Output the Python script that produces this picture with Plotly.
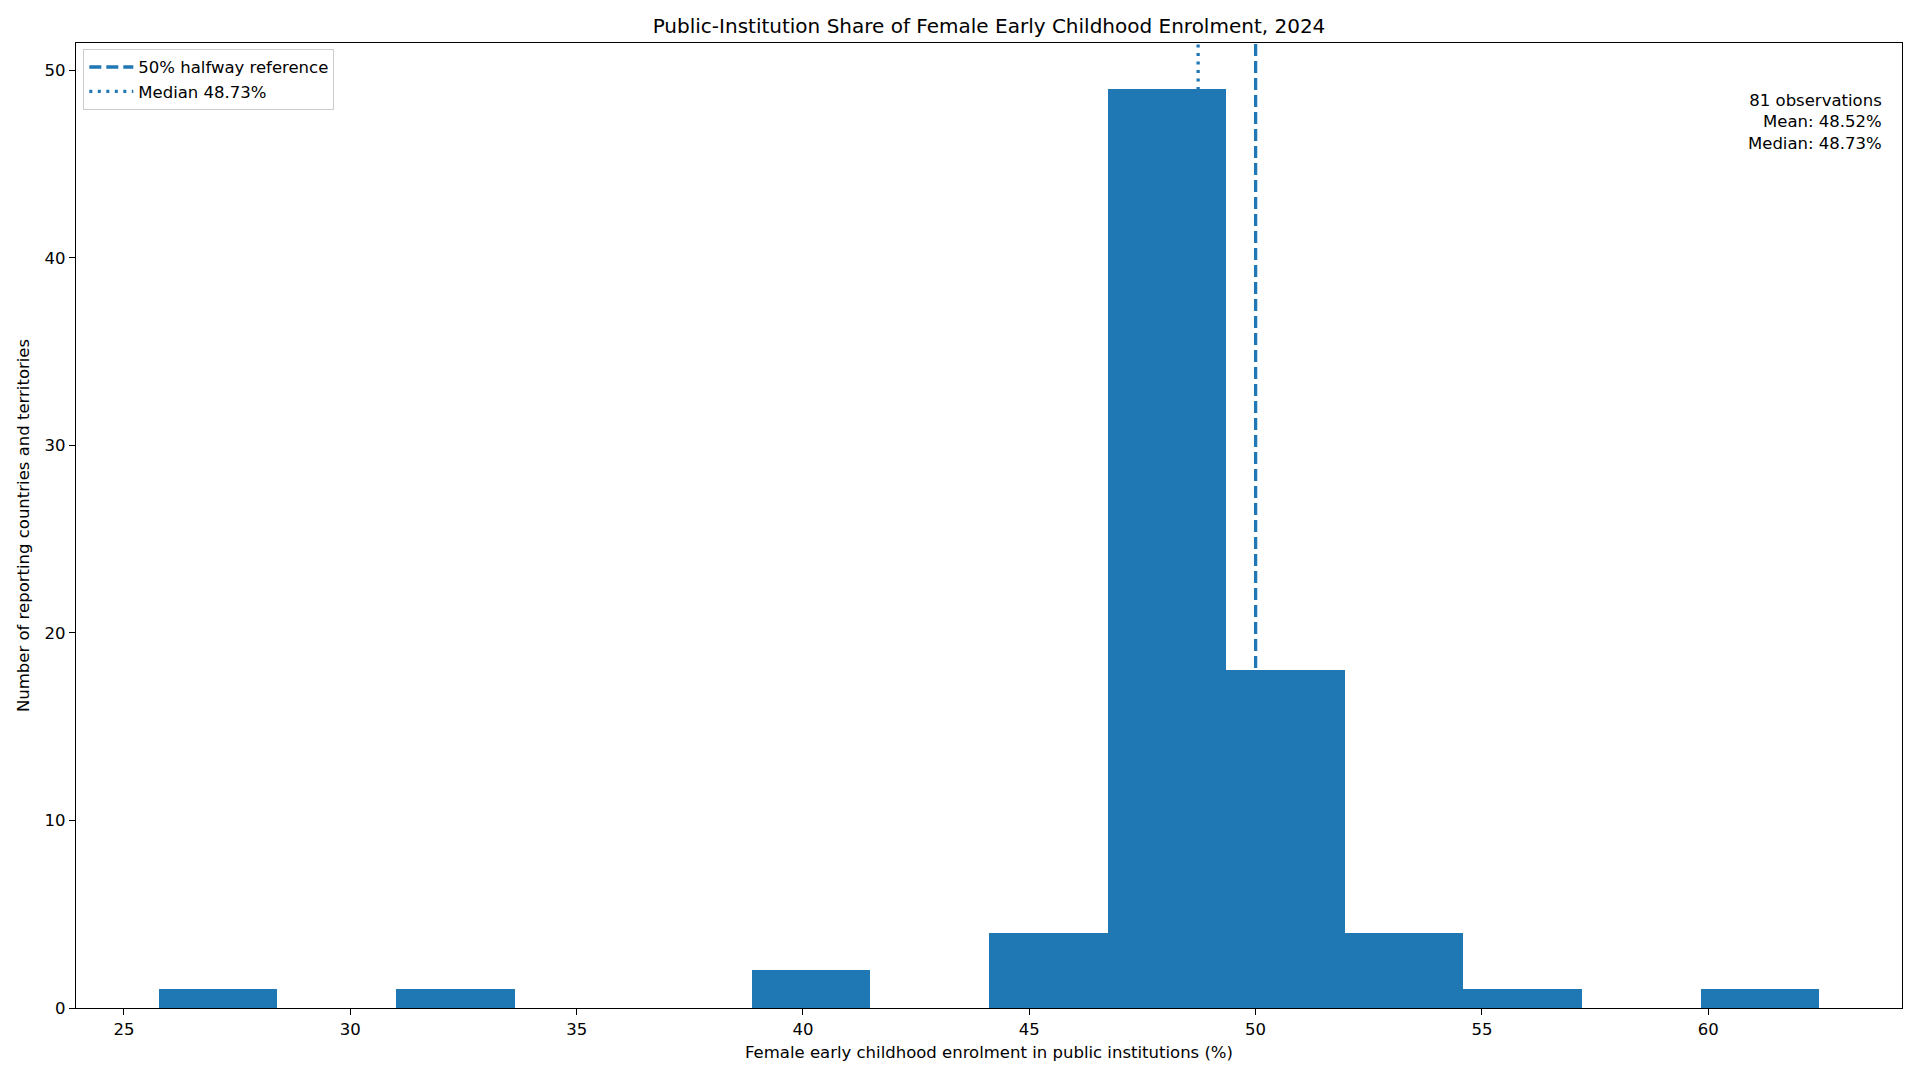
import plotly.graph_objects as go

# Histogram data
bin_edges = [25.77, 28.39, 31.01, 33.63, 36.25, 38.87, 41.49, 44.11,
             46.73, 49.35, 51.97, 54.59, 57.21, 59.83, 62.45]
counts = [1, 0, 1, 0, 0, 2, 0, 4, 49, 18, 4, 1, 0, 1]
reference_value = 50.0
median_value = 48.73
mean_value = 48.52
n_obs = 81
x_ticks = [25, 30, 35, 40, 45, 50, 55, 60]
y_ticks = [0, 10, 20, 30, 40, 50]

BLUE = "#1f77b4"
LINE_BLUE = "#1f77b4"
FONT = "DejaVu Sans"

lefts = bin_edges[:-1]
widths = [b - a for a, b in zip(bin_edges[:-1], bin_edges[1:])]

fig = go.Figure()
fig.add_trace(go.Bar(
    x=lefts, y=counts, width=widths, offset=0,
    marker=dict(color=BLUE, line=dict(width=0)),
    showlegend=False, hoverinfo="skip",
))

fig.add_shape(type="line", xref="x", yref="paper",
              x0=reference_value, x1=reference_value, y0=0, y1=1,
              layer="below", line=dict(color=LINE_BLUE, width=3.3, dash="12px,5px"),
              showlegend=True, name="50% halfway reference")
fig.add_shape(type="line", xref="x", yref="paper",
              x0=median_value, x1=median_value, y0=0, y1=1,
              layer="below", line=dict(color=LINE_BLUE, width=3.3, dash="3px,5.5px"),
              showlegend=True, name=f"Median {median_value:.2f}%")

fig.add_annotation(
    xref="paper", yref="paper", x=0.99, y=0.952,
    xanchor="right", yanchor="top", align="right", showarrow=False,
    text=f"{n_obs} observations<br>Mean: {mean_value:.2f}%<br>Median: {median_value:.2f}%",
    font=dict(family=FONT, size=16.5, color="black"),
)

axis_common = dict(
    showline=True, linecolor="black", linewidth=1.33, mirror=True,
    ticks="outside", ticklen=6, tickwidth=1.33, tickcolor="black",
    showgrid=False, zeroline=False,
    tickfont=dict(family=FONT, size=16.5, color="black"),
)

# page body has an 8px default margin: figure sits at (8, 8)
fig.update_layout(
    width=1904, height=1064,
    margin=dict(l=68, r=10, t=35, b=64),
    paper_bgcolor="white", plot_bgcolor="white",
    bargap=0,
    font=dict(family=FONT, size=16.5, color="black"),
    title=dict(
        text="Public-Institution Share of Female Early Childhood Enrolment, 2024",
        x=(68 + (1904 - 68 - 10) / 2) / 1904, xanchor="center",
        yref="paper", y=1, yanchor="bottom", pad=dict(b=10),
        font=dict(family=FONT, size=20, color="black"),
    ),
    xaxis=dict(range=[23.94, 64.28], tickvals=x_ticks,
               title=dict(text="Female early childhood enrolment in public institutions (%)",
                          font=dict(family=FONT, size=16.5), standoff=8),
               **axis_common),
    yaxis=dict(range=[0, 51.45], tickvals=y_ticks,
               title=dict(text="Number of reporting countries and territories",
                          font=dict(family=FONT, size=16.5), standoff=10),
               **axis_common),
    legend=dict(
        x=0.004, y=0.994, xanchor="left", yanchor="top",
        bgcolor="white", bordercolor="#cccccc", borderwidth=1,
        font=dict(family=FONT, size=16.5, color="black"),
        itemwidth=44,
    ),
)

fig.write_html("out.html")
